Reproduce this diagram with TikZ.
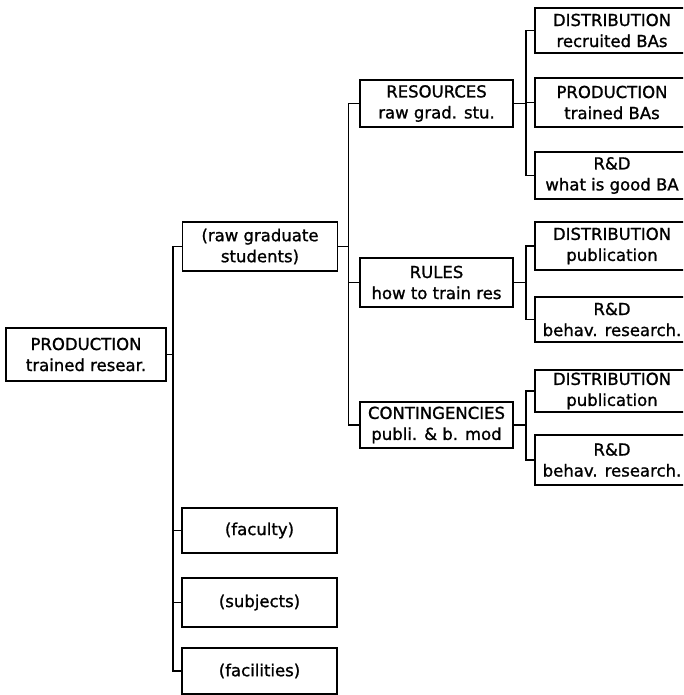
\documentclass[tikz,border=0pt]{standalone}
\usepackage{fontspec}
\setmainfont{DejaVu Sans}[BoldFont={DejaVu Sans},BoldFeatures={FakeBold=1.2}]
\begin{document}
\begin{tikzpicture}[x=1pt,y=-1pt,
  box/.style={draw, line width=1.8pt, rectangle, inner sep=0pt, align=center,
    font=\fontsize{16.5}{21}\selectfont\bfseries},
  lvtwo/.style={box, minimum width=155},
  lvthree/.style={box, minimum width=153},
  lvfour/.style={box, minimum width=154},
  conn/.style={line width=1.8pt}]
\useasboundingbox (0,0) rectangle (683,695);
\clip (0,0) rectangle (683,695);
% root
\node[box, minimum width=160, minimum height=53] (root) at (86,354.5) {PRODUCTION\\trained resear.};
% level 2
\node[lvtwo, minimum height=49] (rgs) at (260,246.5) {(raw graduate\\students)};
\node[lvtwo, minimum height=45] (fac) at (259.5,530.5) {(faculty)};
\node[lvtwo, minimum height=49] (sub) at (259.5,602.5) {(subjects)};
\node[lvtwo, minimum height=46] (facil) at (259.5,671) {(facilities)};
% level 3
\node[lvthree, minimum height=47] (res) at (436.5,103.5) {RESOURCES\\raw grad. stu.};
\node[lvthree, minimum height=49] (rul) at (436.5,282.5) {RULES\\how to train res};
\node[lvthree, minimum height=46] (con) at (436.5,425) {CONTINGENCIES\\publi. \& b. mod};
% level 4
\node[lvfour, minimum height=45] (d1) at (612,30.5) {DISTRIBUTION\\recruited BAs};
\node[lvfour, minimum height=49] (p1) at (612,102.5) {PRODUCTION\\trained BAs};
\node[lvfour, minimum height=47] (r1) at (612,175.5) {R\&D\\what is good BA};
\node[lvfour, minimum height=48] (d2) at (612,246) {DISTRIBUTION\\publication};
\node[lvfour, minimum height=45] (r2) at (612,319.5) {R\&D\\behav. research.};
\node[lvfour, minimum height=42] (d3) at (612,391) {DISTRIBUTION\\publication};
\node[lvfour, minimum height=50] (r3) at (612,460) {R\&D\\behav. research.};
% connectors
\foreach \c in {rgs,fac,sub,facil} \draw[conn] (root.east) -- ++(6,0) |- (\c.west);
\foreach \c in {res,rul,con} \draw[conn] (rgs.east) -- ++(10,0) |- (\c.west);
\foreach \c in {d1,p1,r1} \draw[conn] (res.east) -- ++(12,0) |- (\c.west);
\foreach \c in {d2,r2} \draw[conn] (rul.east) -- ++(12,0) |- (\c.west);
\foreach \c in {d3,r3} \draw[conn] (con.east) -- ++(12,0) |- (\c.west);
\end{tikzpicture}
\end{document}
